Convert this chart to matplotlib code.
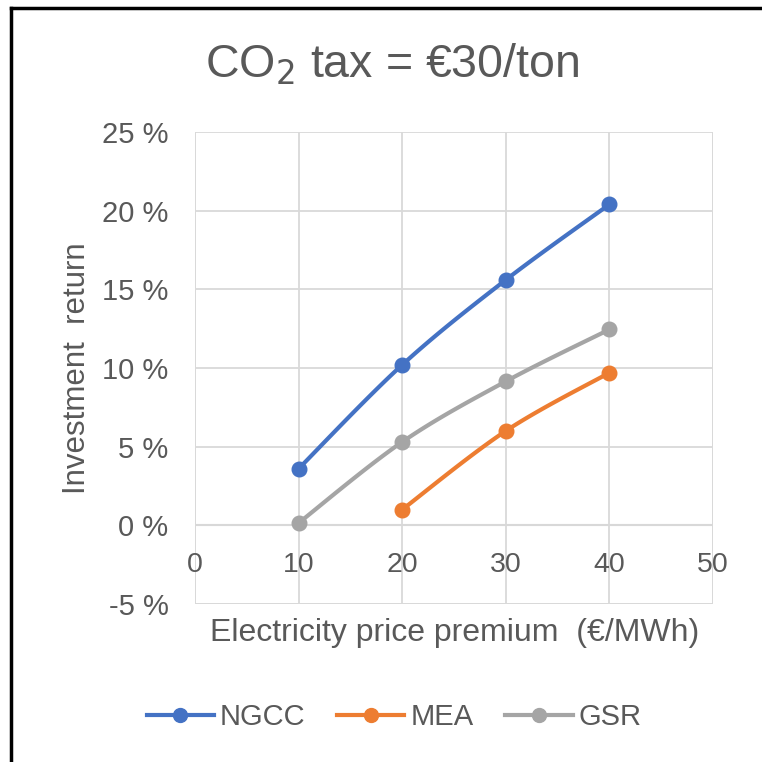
import matplotlib
matplotlib.use("Agg")
import matplotlib.pyplot as plt
from matplotlib.lines import Line2D
import numpy as np

plt.rcParams['font.family'] = ['Liberation Sans', 'DejaVu Sans']

# data
premium = [10, 20, 30, 40]
ngcc = [3.6, 10.2, 15.6, 20.4]
mea_x = [20, 30, 40]
mea = [1.0, 6.0, 9.7]
gsr = [0.15, 5.3, 9.15, 12.45]

series = [("NGCC", premium, ngcc, "#4472C4"),
          ("MEA", mea_x, mea, "#ED7D31"),
          ("GSR", premium, gsr, "#A5A5A5")]

yticks = [-5, 0, 5, 10, 15, 20, 25]
xticks = [0, 10, 20, 30, 40, 50]
txt = "#595959"


def smooth(x, y, n=30):
    # catmull-rom style bezier, like excel "smoothed line"
    x = np.asarray(x, float)
    y = np.asarray(y, float)
    if len(x) < 3:
        return x, y
    px, py = [], []
    for i in range(len(x) - 1):
        x0, y0 = (x[i - 1], y[i - 1]) if i > 0 else (x[i], y[i])
        x3, y3 = (x[i + 2], y[i + 2]) if i + 2 < len(x) else (x[i + 1], y[i + 1])
        c1x = x[i] + (x[i + 1] - x0) / 6
        c1y = y[i] + (y[i + 1] - y0) / 6
        c2x = x[i + 1] - (x3 - x[i]) / 6
        c2y = y[i + 1] - (y3 - y[i]) / 6
        t = np.linspace(0, 1, n)
        bx = (1 - t) ** 3 * x[i] + 3 * (1 - t) ** 2 * t * c1x + 3 * (1 - t) * t ** 2 * c2x + t ** 3 * x[i + 1]
        by = (1 - t) ** 3 * y[i] + 3 * (1 - t) ** 2 * t * c1y + 3 * (1 - t) * t ** 2 * c2y + t ** 3 * y[i + 1]
        px.extend(bx)
        py.extend(by)
    return np.array(px), np.array(py)


fig = plt.figure(figsize=(7.62, 7.62), dpi=100)
ax = fig.add_axes([195 / 762, 1 - 604 / 762, 518 / 762, 472 / 762])

for name, xs, ys, col in series:
    sx, sy = smooth(xs, ys)
    ax.plot(sx, sy, color=col, lw=3.0, solid_capstyle='round', zorder=3)
    ax.plot(xs, ys, 'o', color=col, ms=10.5, zorder=4)

ax.set_xlim(0, 50)
ax.set_ylim(-5, 25)
ax.set_yticks(yticks)
ax.set_yticklabels([f"{v} %" for v in yticks])
ax.set_xticks(xticks)
ax.set_xticklabels([str(v) for v in xticks])
ax.grid(True, color="#D9D9D9", lw=1.3, zorder=0)
for s in ax.spines.values():
    s.set_visible(False)
# x labels sit just under the zero line, like excel
ax.spines['bottom'].set_position(('data', 0))
ax.axhline(-5, color="#D9D9D9", lw=1.3, zorder=0)
ax.axhline(0, color="#D0D0D0", lw=1.5, zorder=1)
ax.axvline(0, color="#D9D9D9", lw=1.3, zorder=0)
ax.axvline(50, color="#D9D9D9", lw=1.3, zorder=0)

ax.tick_params(axis='both', length=0, colors=txt, labelsize=21)
ax.tick_params(axis='y', pad=19)
ax.tick_params(axis='x', pad=19.5, labelsize=20.5)

fig.text(392 / 762, 1 - 65 / 762, "CO$_2$ tax = €30/ton", ha='center', va='center',
         fontsize=33.5, color=txt)
fig.text(455 / 762, 1 - 633 / 762, "Electricity price premium  (€/MWh)", ha='center', va='center',
         fontsize=23, color=txt)
fig.text(77 / 762, 1 - 368 / 762, "Investment  return", ha='center', va='center',
         rotation=90, fontsize=22.5, color=txt)

handles = [Line2D([0], [0], color=c, lw=3.0, marker='o', ms=10) for _, _, _, c in series]
fig.legend(handles, [s[0] for s in series], loc='center', bbox_to_anchor=(394 / 762, 1 - 717 / 762),
           ncol=3, frameon=False, fontsize=21, labelcolor=txt, handlelength=2.3,
           handletextpad=0.2, columnspacing=1.1)

# chart border (left and top visible)
fig.add_artist(Line2D([11 / 762, 11 / 762], [0, 1 - 8 / 762], color='black', lw=2.5))
fig.add_artist(Line2D([11 / 762, 1], [1 - 8 / 762, 1 - 8 / 762], color='black', lw=2.5))

fig.savefig("out.png", dpi=100)
